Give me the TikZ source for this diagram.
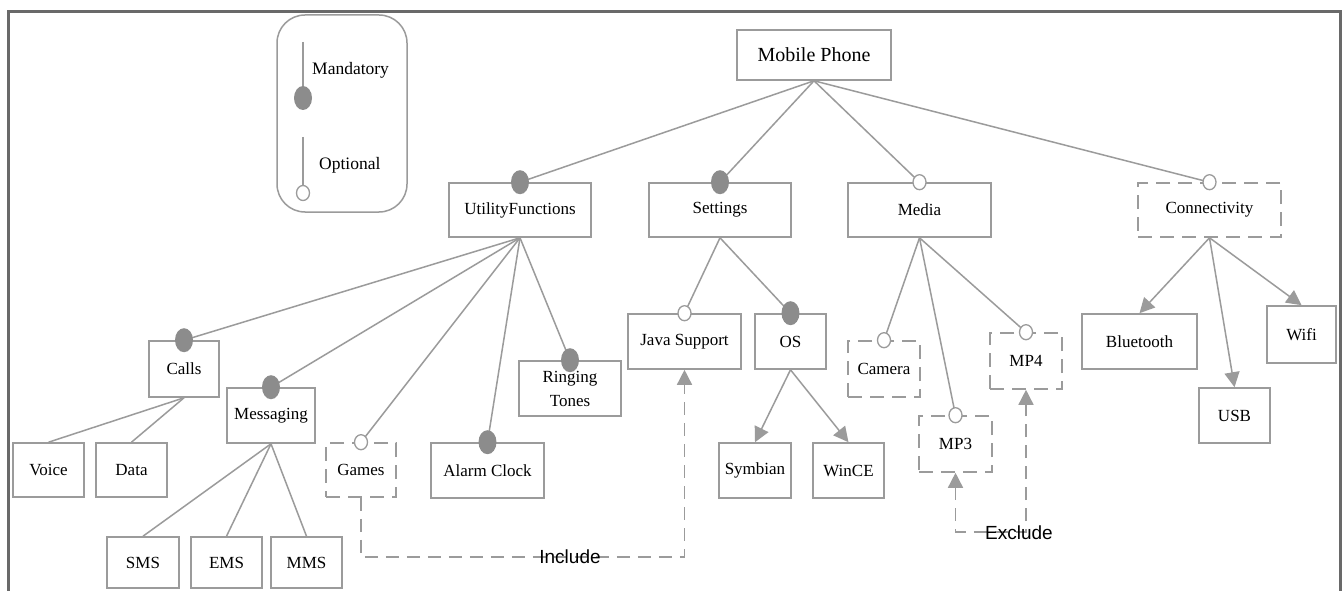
\documentclass[tikz,border=0pt]{standalone}
\usepackage{fontspec}
\setmainfont{Liberation Serif}
\newfontfamily\lsans{Liberation Sans}
\usetikzlibrary{arrows.meta}
\definecolor{framec}{RGB}{105,105,105}
\definecolor{linec}{RGB}{155,155,155}
\definecolor{dotc}{RGB}{140,140,140}
\begin{document}
\begin{tikzpicture}[x=1pt,y=-1pt,
  feat/.style={draw=linec, line width=1.6pt, inner sep=0pt, align=center,
    font=\fontsize{17}{24}\selectfont},
  optf/.style={feat, dash pattern=on 14pt off 8pt},
  conn/.style={draw=linec, line width=1.5pt},
  tip/.style={-{Triangle[length=15pt,width=15pt]}},
  reln/.style={draw=linec, line width=1.5pt, dash pattern=on 13pt off 8pt},
  lbl/.style={inner sep=0pt, font=\fontsize{17.5}{20}\selectfont},
  rlbl/.style={inner sep=0pt, font=\lsans\fontsize{19}{21}\selectfont}]
\useasboundingbox (0,0) rectangle (1344,591);
\fill[white] (0,0) rectangle (1344,591);
% frame
\draw[framec, line width=3pt] (8,591) -- (8,12) -- (1340,12) -- (1340,591);

% legend
\node[draw=linec, line width=1.5pt, rounded corners=28pt, minimum width=130pt, minimum height=197pt] (legend) at (342,113.5) {};
\coordinate (m1) at (303,42);
\coordinate (m2) at (303,98);
\coordinate (o1) at (303,137);
\coordinate (o2) at (303,193);
\draw[conn] (m1) -- (m2);
\fill[dotc] (m2) ellipse [x radius=9pt, y radius=12pt];
\draw[conn] (o1) -- (o2);
\filldraw[draw=linec, fill=white, line width=1.3pt] (o2) ellipse [x radius=6.5pt, y radius=7.5pt];
\node[lbl, anchor=west] (mtext) at (312,70) {Mandatory};
\node[lbl, anchor=west] (otext) at (319,165) {Optional};

% nodes
\node[feat, minimum width=154pt, minimum height=50pt, font=\fontsize{20}{22}\selectfont] (mp) at (814,55) {Mobile Phone};
\node[feat, minimum width=142pt, minimum height=54pt] (util) at (520,210) {UtilityFunctions};
\node[feat, minimum width=142pt, minimum height=54pt] (sett) at (720,210) {Settings};
\node[feat, minimum width=143pt, minimum height=54pt] (media) at (919.5,210) {Media};
\node[optf, minimum width=143pt, minimum height=54pt] (conn) at (1209.5,210) {Connectivity};

\node[feat, minimum width=70pt, minimum height=56pt] (calls) at (184,369) {Calls};
\node[feat, minimum width=88pt, minimum height=55pt] (msg) at (271,415.5) {Messaging};
\node[feat, minimum width=71pt, minimum height=54pt] (voice) at (48.5,470) {Voice};
\node[feat, minimum width=71pt, minimum height=54pt] (data) at (131.5,470) {Data};
\node[optf, minimum width=70pt, minimum height=54pt] (games) at (361,470) {Games};
\node[feat, minimum width=113pt, minimum height=55pt] (alarm) at (487.5,470.5) {Alarm Clock};
\node[feat, minimum width=102pt, minimum height=55pt] (ring) at (570,388.5) {Ringing\\Tones};
\node[feat, minimum width=72pt, minimum height=51pt] (sms) at (143,562.5) {SMS};
\node[feat, minimum width=71pt, minimum height=51pt] (ems) at (226.5,562.5) {EMS};
\node[feat, minimum width=71pt, minimum height=51pt] (mms) at (306.5,562.5) {MMS};

\node[feat, minimum width=113pt, minimum height=55pt] (java) at (684.5,341.5) {Java Support};
\node[feat, minimum width=71pt, minimum height=55pt] (os) at (790.5,341.5) {OS};
\node[feat, minimum width=72pt, minimum height=55pt] (symb) at (755,470.5) {Symbian};
\node[feat, minimum width=71pt, minimum height=55pt] (wince) at (848.5,470.5) {WinCE};

\node[optf, minimum width=72pt, minimum height=56pt] (camera) at (884,369) {Camera};
\node[optf, minimum width=73pt, minimum height=56pt] (mp3) at (955.5,444) {MP3};
\node[optf, minimum width=72pt, minimum height=56pt] (mp4) at (1026,361) {MP4};

\node[feat, minimum width=115pt, minimum height=55pt] (bt) at (1139.5,341.5) {Bluetooth};
\node[feat, minimum width=69pt, minimum height=57pt] (wifi) at (1301.5,334.5) {Wifi};
\node[feat, minimum width=71pt, minimum height=55pt] (usb) at (1234.5,415.5) {USB};

% plain connectors
\foreach \c in {util,sett,media,conn} \draw[conn] (mp.south) -- (\c.north);
\foreach \c in {calls,msg,games,alarm,ring} \draw[conn] (util.south) -- (\c.north);
\foreach \c in {java,os} \draw[conn] (sett.south) -- (\c.north);
\foreach \c in {camera,mp3,mp4} \draw[conn] (media.south) -- (\c.north);
\foreach \c in {voice,data} \draw[conn] (calls.south) -- (\c.north);
\foreach \c in {sms,ems,mms} \draw[conn] (msg.south) -- (\c.north);

% arrows (alternative / or groups)
\foreach \c in {symb,wince} \draw[conn, tip, linec] (os.south) -- (\c.north);
\foreach \c in {bt,usb,wifi} \draw[conn, tip, linec] (conn.south) -- (\c.north);

% mandatory markers
\foreach \c in {util,sett,calls,msg,alarm,ring,os}
  \fill[dotc] (\c.north) ellipse [x radius=9pt, y radius=12pt];
% optional markers
\foreach \c in {media,conn,games,java,camera,mp3,mp4}
  \filldraw[draw=linec, fill=white, line width=1.3pt] (\c.north) ellipse [x radius=6.5pt, y radius=7.5pt];

% include / exclude
\coordinate (inc) at (361,557);
\coordinate (exc) at (955.5,532);
\draw[reln, tip, linec] (games.south) -- (inc) -| (java.south);
\draw[reln, {Triangle[length=15pt,width=15pt]}-{Triangle[length=15pt,width=15pt]}, linec] (mp3.south) -- (exc) -| (mp4.south);
\node[rlbl] (inclbl) at (570,557) {Include};
\node[rlbl] (exclbl) at (1019,533) {Exclude};
\end{tikzpicture}
\end{document}
